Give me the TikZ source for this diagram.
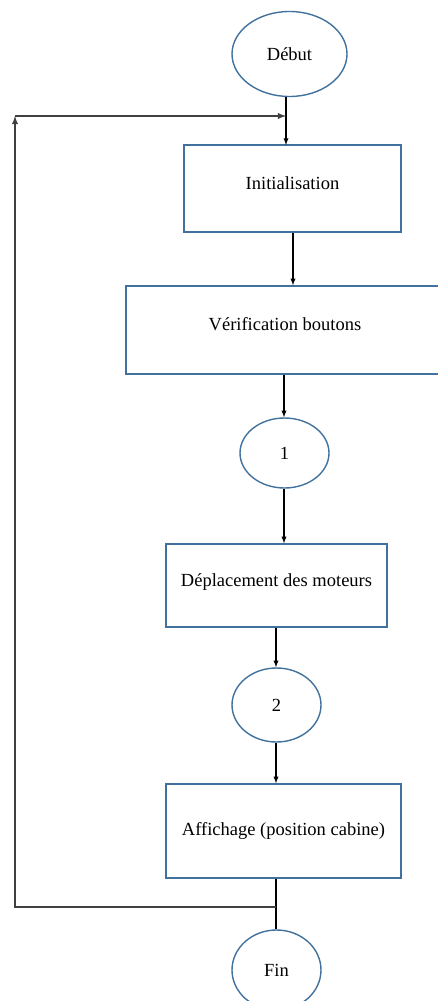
\documentclass[tikz,border=0pt]{standalone}
\usepackage{fontspec}
\setmainfont{Liberation Serif}
\usetikzlibrary{shapes.geometric}

\definecolor{bordbleu}{RGB}{65,113,156}

\begin{document}
\begin{tikzpicture}[x=1pt,y=-1pt,>=latex,
    bloc/.style={draw=bordbleu,line width=1.4pt,rectangle,minimum height=#1,inner sep=0pt},
    etat/.style={draw=bordbleu,line width=1.4pt,ellipse,inner sep=0pt},
    lien/.style={->,line width=1.3pt},
    boucle/.style={->,line width=1.8pt,black!75}]
  \useasboundingbox (0,0) rectangle (437,1001);
  \fontsize{18.5}{22}\selectfont

  \node [etat,minimum width=115pt,minimum height=85pt] (debut) at (289.5,54) {Début};
  \node [bloc=87pt,minimum width=217pt,text depth=11pt] (init) at (292.5,188.5) {Initialisation};
  \node [bloc=88pt,minimum width=318pt,text depth=13pt] (verif) at (285,330) {Vérification boutons};
  \node [etat,minimum width=89pt,minimum height=70pt] (un) at (284.5,453) {1};
  \node [bloc=83pt,minimum width=221pt,text depth=11pt] (depl) at (276.5,585.5) {Déplacement des moteurs};
  \node [etat,minimum width=89pt,minimum height=74pt] (deux) at (276.5,705) {2};
  \node [bloc=94pt,minimum width=235pt] (affich) at (283.5,831) {Affichage (position cabine)};
  \node [etat,minimum width=89pt,minimum height=80pt] (fin) at (276.5,970) {Fin};

  % points of the return loop
  \coordinate (haut) at (286,116);
  \coordinate (retour) at (276,907);
  \coordinate (coin) at (15,116);

  \draw[lien] (286,97) -- (286,145);
  \draw[lien] (init.south -| 293,0) -- (verif.north -| 293,0);
  \draw[lien] (verif.south -| 284,0) -- (un.north -| 284,0);
  \draw[lien] (un.south -| 284,0) -- (depl.north -| 284,0);
  \draw[lien] (depl.south -| 276,0) -- (deux.north -| 276,0);
  \draw[lien] (deux.south -| 276,0) -- (affich.north -| 276,0);
  \draw[line width=1.3pt] (affich.south -| 276,0) -- (fin.north -| 276,0);

  \draw[boucle] (retour) -| (coin);
  \draw[boucle] (coin) -- (haut);
\end{tikzpicture}
\end{document}
